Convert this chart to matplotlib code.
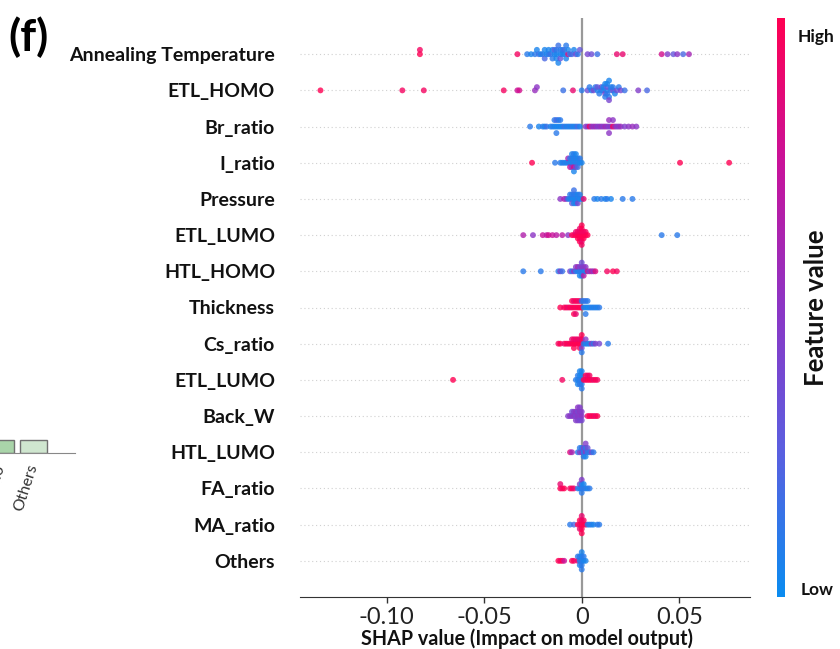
import matplotlib
matplotlib.use("Agg")
import matplotlib.pyplot as plt
import numpy as np
from matplotlib.colors import LinearSegmentedColormap
from matplotlib.cm import ScalarMappable

plt.rcParams['font.family'] = ['Lato', 'DejaVu Sans']
plt.rcParams['axes.unicode_minus'] = False

# feature names, top to bottom
features = ['Annealing Temperature', 'ETL_HOMO', 'Br_ratio', 'I_ratio', 'Pressure',
            'ETL_LUMO', 'HTL_HOMO', 'Thickness', 'Cs_ratio', 'ETL_LUMO',
            'Back_W', 'HTL_LUMO', 'FA_ratio', 'MA_ratio', 'Others']

# (shap value, normalised feature value)
annealing = [
    (-0.083, 1.0), (-0.083, 0.95), (-0.033, 0.95),
    (-0.028, 0.1), (-0.026, 0.05), (-0.024, 0.1), (-0.023, 0.05), (-0.022, 0.15), (-0.021, 0.05),
    (-0.020, 0.1), (-0.019, 0.05), (-0.019, 0.2), (-0.018, 0.05), (-0.017, 0.1), (-0.017, 0.05),
    (-0.016, 0.15), (-0.015, 0.05), (-0.015, 0.1), (-0.014, 0.05), (-0.014, 0.25), (-0.013, 0.05),
    (-0.013, 0.1), (-0.013, 0.05), (-0.012, 0.15), (-0.012, 0.05), (-0.011, 0.05), (-0.011, 0.1),
    (-0.011, 0.3), (-0.010, 0.05), (-0.010, 0.1), (-0.009, 0.05), (-0.009, 0.15), (-0.008, 0.05),
    (-0.008, 0.1), (-0.007, 0.85), (-0.007, 0.05), (-0.006, 0.1), (-0.005, 0.2), (-0.004, 0.05),
    (-0.003, 0.35), (-0.002, 0.1), (-0.001, 0.3),
    (0.003, 0.4), (0.005, 0.35), (0.008, 0.15), (0.018, 0.9), (0.021, 0.9), (0.041, 0.8),
    (0.044, 0.45), (0.047, 0.3), (0.049, 0.5), (0.052, 0.2), (0.055, 0.6),
]
etl_homo = [
    (-0.134, 1.0), (-0.092, 0.95), (-0.081, 0.95), (-0.040, 0.95), (-0.033, 0.75), (-0.032, 0.8),
    (-0.024, 0.55), (-0.023, 0.5), (-0.0095, 0.15), (-0.0045, 0.9), (0.000, 0.1),
    (0.003, 0.35), (0.004, 0.1), (0.005, 0.05), (0.006, 0.4), (0.007, 0.1), (0.008, 0.05),
    (0.008, 0.3), (0.009, 0.1), (0.010, 0.05), (0.010, 0.35), (0.011, 0.1), (0.011, 0.05),
    (0.012, 0.4), (0.012, 0.05), (0.012, 0.1), (0.013, 0.05), (0.013, 0.3), (0.013, 0.1),
    (0.013, 0.05), (0.014, 0.1), (0.014, 0.05), (0.014, 0.4), (0.015, 0.1), (0.015, 0.05),
    (0.016, 0.3), (0.016, 0.1), (0.017, 0.05), (0.018, 0.35), (0.019, 0.1), (0.020, 0.4),
    (0.022, 0.15), (0.029, 0.45), (0.0335, 0.2),
]
br_ratio = [
    (-0.0265, 0.1), (-0.022, 0.05), (-0.020, 0.1), (-0.019, 0.05), (-0.018, 0.15), (-0.016, 0.05),
    (-0.015, 0.1), (-0.014, 0.05), (-0.014, 0.1), (-0.013, 0.05), (-0.013, 0.2), (-0.013, 0.1),
    (-0.012, 0.05), (-0.012, 0.1), (-0.011, 0.05), (-0.011, 0.1), (-0.010, 0.05), (-0.009, 0.15),
    (-0.008, 0.05), (-0.007, 0.1), (-0.006, 0.05), (-0.005, 0.1), (-0.004, 0.05), (-0.003, 0.1),
    (-0.002, 0.2), (-0.001, 0.05),
    (0.002, 0.5), (0.003, 0.45), (0.004, 0.95), (0.005, 0.55), (0.006, 0.5), (0.007, 0.6),
    (0.008, 0.45), (0.009, 0.5), (0.010, 0.55), (0.011, 0.45), (0.012, 0.6), (0.013, 0.5),
    (0.014, 0.45), (0.014, 0.55), (0.014, 0.5), (0.015, 0.5), (0.016, 0.95), (0.016, 0.5),
    (0.017, 0.6), (0.018, 0.45), (0.019, 0.5), (0.020, 0.55), (0.022, 0.45), (0.024, 0.5),
    (0.026, 0.55), (0.028, 0.5),
]
i_ratio = [
    (-0.0255, 1.0), (-0.0137, 0.1),
    (-0.011, 0.1), (-0.010, 0.05), (-0.009, 0.1), (-0.008, 0.05), (-0.007, 0.1), (-0.007, 0.6),
    (-0.006, 0.05), (-0.006, 0.1), (-0.006, 0.75), (-0.005, 0.05), (-0.005, 0.1), (-0.005, 0.5),
    (-0.005, 0.05), (-0.004, 0.1), (-0.004, 0.05), (-0.004, 0.8), (-0.004, 0.1), (-0.004, 0.05),
    (-0.003, 0.05), (-0.003, 0.1), (-0.003, 0.4), (-0.003, 0.05), (-0.002, 0.1), (-0.002, 0.05),
    (-0.002, 0.15), (-0.001, 0.05), (-0.001, 0.1), (0.000, 0.05),
    (0.0504, 1.0), (0.0756, 1.0),
]
pressure = [
    (-0.011, 0.5), (-0.009, 0.65), (-0.008, 0.5), (-0.007, 0.1), (-0.006, 0.05), (-0.006, 0.1),
    (-0.005, 0.05), (-0.005, 0.1), (-0.005, 0.3), (-0.004, 0.05), (-0.004, 0.1), (-0.004, 0.05),
    (-0.004, 0.15), (-0.003, 0.05), (-0.003, 0.1), (-0.003, 0.05), (-0.002, 0.1), (-0.002, 0.05),
    (-0.002, 0.4), (-0.001, 0.05), (-0.001, 0.1), (0.000, 0.05), (0.001, 0.9),
    (0.0064, 0.1), (0.008, 0.05), (0.010, 0.1), (0.012, 0.05), (0.013, 0.1), (0.015, 0.05),
    (0.021, 0.1), (0.026, 0.1),
]
etl_lumo = [
    (-0.030, 0.65), (-0.025, 0.5), (-0.020, 0.75), (-0.018, 0.7), (-0.017, 0.8), (-0.015, 0.75),
    (-0.013, 0.7), (-0.010, 0.7), (-0.007, 0.5),
    (-0.005, 1.0), (-0.004, 0.95), (-0.003, 1.0), (-0.003, 0.9), (-0.002, 1.0), (-0.002, 0.95),
    (-0.002, 1.0), (-0.001, 1.0), (-0.001, 0.95), (-0.001, 1.0), (-0.001, 0.9), (-0.001, 1.0),
    (0.000, 1.0), (0.000, 0.95), (0.000, 1.0), (0.000, 1.0), (0.000, 0.9), (0.000, 1.0),
    (0.000, 0.95), (0.001, 1.0), (0.001, 0.95), (0.001, 1.0), (0.002, 1.0), (0.002, 0.95),
    (0.003, 1.0),
    (0.041, 0.1), (0.049, 0.1),
]
htl_homo = [
    (-0.030, 0.1), (-0.021, 0.1), (-0.012, 0.1), (-0.011, 0.45), (-0.010, 0.15),
    (-0.006, 0.4), (-0.005, 0.1), (-0.004, 0.5), (-0.003, 0.1), (-0.003, 0.45), (-0.002, 0.05),
    (-0.002, 0.6), (-0.001, 0.1), (-0.001, 0.4), (-0.001, 0.05), (0.000, 0.1), (0.000, 0.5),
    (0.000, 0.05), (0.000, 0.35), (0.001, 0.1), (0.001, 0.45), (0.001, 0.7), (0.002, 0.05),
    (0.002, 0.5), (0.003, 0.8), (0.004, 0.45), (0.005, 0.7), (0.006, 0.5), (0.007, 0.85),
    (0.013, 0.95), (0.016, 1.0), (0.018, 0.95),
]
thickness = [
    (-0.011, 1.0), (-0.009, 0.95), (-0.008, 1.0), (-0.007, 0.9), (-0.006, 1.0), (-0.005, 0.95),
    (-0.005, 1.0), (-0.004, 1.0), (-0.004, 0.9), (-0.004, 1.0), (-0.003, 0.95), (-0.003, 1.0),
    (-0.003, 0.9), (-0.002, 1.0), (-0.002, 0.95), (-0.001, 1.0), (-0.001, 0.9), (0.000, 1.0),
    (0.000, 0.1), (0.001, 0.05), (0.001, 0.1), (0.002, 0.05), (0.002, 0.15), (0.002, 0.1),
    (0.003, 0.05), (0.003, 0.1), (0.004, 0.05), (0.005, 0.1), (0.006, 0.05), (0.007, 0.1),
    (0.008, 0.05), (0.009, 0.1),
]
cs_ratio = [
    (-0.012, 0.95), (-0.011, 1.0), (-0.009, 0.9), (-0.008, 1.0), (-0.007, 0.95), (-0.006, 1.0),
    (-0.005, 1.0), (-0.005, 0.9), (-0.004, 1.0), (-0.004, 0.95), (-0.004, 1.0), (-0.003, 1.0),
    (-0.003, 0.9), (-0.002, 1.0), (-0.002, 0.95), (-0.001, 1.0), (-0.001, 0.9), (-0.001, 1.0),
    (0.000, 1.0), (0.000, 0.95), (0.000, 0.4), (0.000, 1.0), (0.000, 0.1),
    (0.001, 0.1), (0.002, 0.05), (0.002, 0.45), (0.003, 0.1), (0.004, 0.05), (0.005, 0.5),
    (0.006, 0.1), (0.007, 0.45), (0.009, 0.4), (0.0135, 0.1),
]
etl_lumo2 = [
    (-0.066, 1.0), (-0.010, 0.95),
    (-0.003, 0.1), (-0.002, 0.05), (-0.002, 0.1), (-0.002, 0.05), (-0.001, 0.1), (-0.001, 0.05),
    (-0.001, 0.1), (-0.001, 0.05), (0.000, 0.1), (0.000, 0.05), (0.000, 0.1), (0.000, 0.05),
    (0.000, 0.1),
    (0.001, 1.0), (0.002, 0.95), (0.002, 1.0), (0.003, 1.0), (0.003, 0.9), (0.004, 1.0),
    (0.004, 0.95), (0.005, 1.0), (0.006, 0.9), (0.007, 1.0), (0.008, 0.95),
]
back_w = [
    (-0.007, 0.45), (-0.006, 0.5), (-0.005, 0.45), (-0.005, 0.35), (-0.004, 0.5), (-0.004, 0.45),
    (-0.003, 0.4), (-0.003, 0.5), (-0.003, 0.45), (-0.002, 0.5), (-0.002, 0.4), (-0.002, 0.45),
    (-0.002, 0.5), (-0.001, 0.45), (-0.001, 0.5), (-0.001, 0.4), (-0.001, 0.45), (0.000, 0.5),
    (0.000, 0.45), (0.000, 0.4),
    (0.003, 0.95), (0.004, 1.0), (0.005, 0.95), (0.006, 1.0), (0.007, 0.9), (0.008, 1.0),
]
htl_lumo = [
    (-0.006, 0.85), (-0.005, 0.6),
    (-0.002, 0.1), (-0.001, 0.4), (-0.001, 0.1), (0.000, 0.45), (0.000, 0.1), (0.001, 0.05),
    (0.001, 0.4), (0.001, 0.1), (0.002, 0.5), (0.002, 0.1), (0.002, 0.05), (0.002, 0.45),
    (0.003, 0.1), (0.003, 0.35), (0.004, 0.1), (0.005, 0.4), (0.006, 0.1),
]
fa_ratio = [
    (-0.011, 1.0), (-0.011, 0.9), (-0.010, 0.95), (-0.009, 1.0), (-0.006, 0.95), (-0.005, 1.0),
    (-0.004, 0.9),
    (-0.002, 0.1), (-0.001, 0.05), (-0.001, 0.4), (0.000, 0.1), (0.000, 0.05), (0.000, 0.1),
    (0.000, 0.45), (0.001, 0.1), (0.001, 0.05), (0.002, 0.1), (0.003, 0.05), (0.004, 0.1),
]
ma_ratio = [
    (-0.006, 0.1), (-0.004, 0.2),
    (-0.002, 1.0), (-0.001, 0.95), (-0.001, 1.0), (-0.001, 0.9), (0.000, 1.0), (0.000, 0.95),
    (0.000, 1.0), (0.000, 0.9), (0.000, 1.0), (0.001, 1.0), (0.001, 0.95), (0.002, 1.0),
    (0.003, 0.1), (0.004, 0.05), (0.005, 0.1), (0.006, 0.05), (0.008, 0.1), (0.009, 0.1),
]
others = [
    (-0.012, 1.0), (-0.011, 0.95), (-0.010, 1.0), (-0.009, 0.75), (-0.005, 1.0), (-0.004, 0.95),
    (-0.002, 0.9),
    (-0.002, 0.1), (-0.001, 0.05), (-0.001, 0.1), (-0.001, 0.05), (0.000, 0.1), (0.000, 0.05),
    (0.000, 0.1), (0.000, 0.05), (0.000, 0.1), (0.001, 0.05), (0.001, 0.1), (0.002, 0.05),
]
rows = [annealing, etl_homo, br_ratio, i_ratio, pressure, etl_lumo, htl_homo, thickness,
        cs_ratio, etl_lumo2, back_w, htl_lumo, fa_ratio, ma_ratio, others]

xtick_vals = [-0.10, -0.05, 0, 0.05]
xtick_labels = ['-0.10', '-0.05', '0', '0.05']

# leftover piece of the neighbouring panel
frag_labels = ['FA_ratio', 'Others']
frag_heights = [0.65, 0.65]
frag_colors = ['#a9d4a9', '#cfe6cf']

cmap = LinearSegmentedColormap.from_list(
    'shap_rb', ['#0a8cf0', '#5a5fe0', '#8c35c5', '#c8129a', '#ff0052'])


def swarm_offsets(vals, nbins=100, row_height=0.4):
    # same layering idea as the shap beeswarm
    vals = np.asarray(vals, float)
    quant = np.round(nbins * (vals - vals.min()) / (vals.max() - vals.min() + 1e-8))
    order = np.argsort(quant, kind='stable')
    ys = np.zeros(len(vals))
    layer = 0
    last = None
    for i in order:
        if quant[i] != last:
            layer = 0
        ys[i] = np.ceil(layer / 2) * ((layer % 2) * 2 - 1)
        layer += 1
        last = quant[i]
    ys *= 0.9 * (row_height / np.max(ys + 1))
    return ys


fig = plt.figure(figsize=(8.4, 6.49), dpi=100)
ax = fig.add_axes([300 / 840, 52 / 649, 450 / 840, 579 / 649])

n = len(features)
for i, row in enumerate(rows):
    pos = n - 1 - i
    sv = np.array([p[0] for p in row])
    fv = np.array([p[1] for p in row])
    ax.axhline(pos, color='#d0d0d0', lw=0.8, dashes=(1, 2.5), zorder=-1)
    ys = swarm_offsets(sv)
    ax.scatter(sv, pos + ys, c=fv, cmap=cmap, vmin=0, vmax=1, s=18, alpha=0.8,
               linewidth=0, zorder=3)

ax.axvline(0, color='#999999', lw=1.6, zorder=-1)
ax.set_xlim(-0.1445, 0.0863)
ax.set_ylim(-1, n)
ax.set_yticks(range(n))
ax.set_yticklabels(features[::-1], fontsize=14, fontweight='bold', color='#111111')
ax.set_xticks(xtick_vals)
ax.set_xticklabels(xtick_labels, fontsize=17, color='#222222')
ax.tick_params(axis='y', length=0, pad=18)
ax.tick_params(axis='x', length=4, width=1, pad=3, color='#333333')
for s in ['top', 'right', 'left']:
    ax.spines[s].set_visible(False)
ax.spines['bottom'].set_color('#333333')
ax.set_xlabel('SHAP value (Impact on model output)', fontsize=14.2, fontweight='bold',
              color='#111111', va='top')
ax.xaxis.set_label_coords(0.505, -0.054)

# colour bar
cax = fig.add_axes([777 / 840, 52 / 649, 8 / 840, 579 / 649])
cb = fig.colorbar(ScalarMappable(cmap=cmap), cax=cax)
cb.outline.set_visible(False)
cb.set_ticks([])
cax.text(2.6, 0.967, 'High', transform=cax.transAxes, ha='left', va='center',
         fontsize=12.5, fontweight='bold', color='#111111')
cax.text(2.9, 0.012, 'Low', transform=cax.transAxes, ha='left', va='center',
         fontsize=12.5, fontweight='bold', color='#111111')
cax.text(4.9, 0.5, 'Feature value', transform=cax.transAxes, rotation=90,
         ha='center', va='center', fontsize=18.5, fontweight='bold', color='#111111')

fig.text(0.01, 0.943, '(f)', fontsize=32, fontweight='bold', va='center')

# neighbour panel fragment
fax = fig.add_axes([0, 196 / 649, 75 / 840, 20 / 649])
fax.bar(range(len(frag_labels)), frag_heights, width=0.8, color=frag_colors,
        edgecolor='#707070', linewidth=1)
fax.set_xlim(0.015, 2.22)
fax.set_ylim(0, 1)
fax.set_yticks([])
fax.set_xticks(range(len(frag_labels)))
fax.set_xticklabels(frag_labels, rotation=72, ha='right', va='center',
                    rotation_mode='anchor', fontsize=11.5, color='#333333')
fax.tick_params(axis='x', length=0, pad=8)
for s in ['top', 'right', 'left']:
    fax.spines[s].set_visible(False)
fax.spines['bottom'].set_color('#888888')
fax.patch.set_alpha(0)

fig.savefig('out.png', dpi=100)
